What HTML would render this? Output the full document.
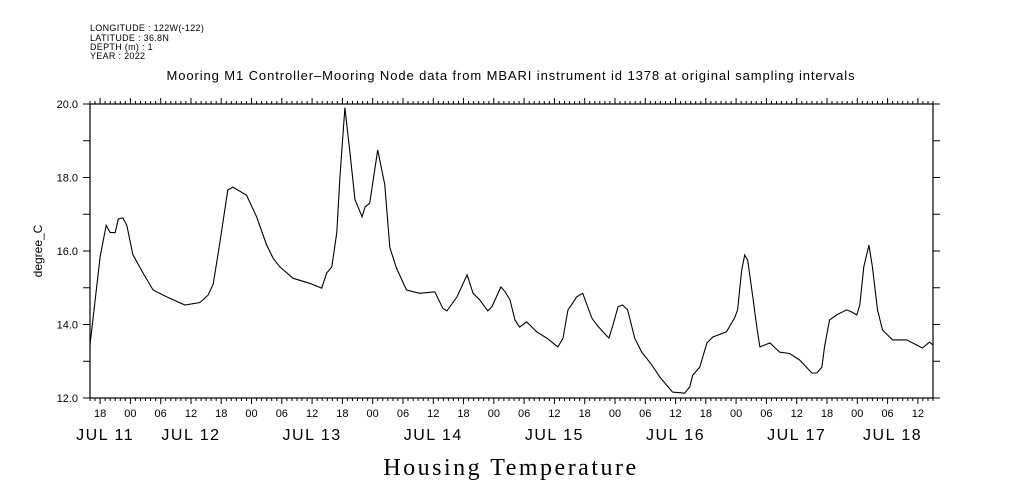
<!DOCTYPE html>
<html><head><meta charset="utf-8">
<style>
body{margin:0;background:#fff;}
svg{display:block;}
text{font-family:"Liberation Sans",sans-serif;fill:#000;}
</style></head>
<body>
<svg id="chart" width="1009" height="504" viewBox="0 0 1009 504">
<g font-size="9" letter-spacing="0.3">
<text x="90" y="31">LONGITUDE : 122W(-122)</text>
<text x="90" y="41">LATITUDE : 36.8N</text>
<text x="90" y="50">DEPTH (m) : 1</text>
<text x="90" y="59">YEAR : 2022</text>
</g>
<text x="511" y="80" font-size="13" letter-spacing="0.9" text-anchor="middle">Mooring M1 Controller–Mooring Node data from MBARI instrument id 1378 at original sampling intervals</text>
<text x="511" y="475" font-size="24" letter-spacing="2.5" text-anchor="middle" style="font-family:'Liberation Serif',serif">Housing Temperature</text>
<text transform="translate(42,251) rotate(-90)" font-size="12" text-anchor="middle">degree_C</text>
<rect x="90" y="104" width="843" height="294" fill="none" stroke="#000" stroke-width="1.2"/>
<g id="axes"></g>
<path id="line" fill="none" stroke="#000" stroke-width="1.1"/>
</svg>
<script>
// hours since Jul 11 16:00
const hours = [0,2,3.2,4,5,5.6,6.5,7.3,8.5,10.5,12.5,15.2,18.8,21.8,23.4,24.4,25.7,27.3,28.3,31,33,35,36.3,37.6,40.2,43.5,45.9,46.9,47.9,48.9,49.5,50.5,51.5,52.5,53.9,54.5,55.4,57,58.4,59.4,60.7,62.7,65.3,68.3,69.9,70.7,72.7,74.7,75.9,77.2,78.8,79.6,81.4,82.2,83.2,84.2,85.1,86.5,88.5,90.5,92.7,93.7,94.7,95.6,96.4,97.6,99.4,100.4,101.6,102.8,103.6,104.6,105.5,106.5,107.9,109.3,111.3,112.9,115.4,117.8,118.8,119.4,120.8,122.2,123.4,126.1,127.7,128.3,129.1,129.7,130.3,131.3,132.1,132.7,134.7,136.6,138.6,140.6,143,144,145,145.5,146.5,147.9,149.9,150.9,151.9,152.5,153.3,154.3,155,156,157,159,161.8,164.9,166.3,167];
const temps = [13.44,15.84,16.7,16.5,16.5,16.87,16.9,16.7,15.9,15.4,14.94,14.75,14.53,14.6,14.8,15.1,16.2,17.66,17.74,17.52,16.93,16.16,15.8,15.57,15.26,15.12,14.99,15.4,15.57,16.5,18.0,19.9,18.66,17.4,16.93,17.2,17.3,18.75,17.8,16.1,15.54,14.94,14.85,14.89,14.44,14.37,14.75,15.35,14.85,14.67,14.37,14.48,15.02,14.9,14.67,14.12,13.93,14.07,13.8,13.63,13.39,13.63,14.4,14.58,14.75,14.85,14.18,13.99,13.8,13.63,13.99,14.48,14.53,14.4,13.63,13.25,12.9,12.57,12.16,12.13,12.3,12.62,12.84,13.5,13.66,13.8,14.18,14.4,15.48,15.89,15.75,14.75,13.93,13.39,13.5,13.25,13.21,13.03,12.68,12.68,12.84,13.39,14.12,14.26,14.4,14.34,14.26,14.53,15.57,16.16,15.57,14.4,13.85,13.58,13.58,13.36,13.52,13.44];
const yTicks = [12.0,14.0,16.0,18.0,20.0];
const hourLabels = ["18","00","06","12"];
const dayNames = ["JUL 11","JUL 12","JUL 13","JUL 14","JUL 15","JUL 16","JUL 17","JUL 18"];
const dayLabelHours = [3,20,44,68,92,116,140,159];

const X0=90,X1=933,Y0=104,Y1=398,HMAX=167,TMIN=12,TMAX=20;
const xs=h=>X0+(h/HMAX)*(X1-X0);
const ys=t=>Y1-(t-TMIN)/(TMAX-TMIN)*(Y1-Y0);
const NS="http://www.w3.org/2000/svg";
const ax=document.getElementById('axes');
function mk(tag,attrs){const e=document.createElementNS(NS,tag);for(const k in attrs)e.setAttribute(k,attrs[k]);ax.appendChild(e);return e;}
let d="";
for(let h=0;h<=HMAX;h++){
  const x=xs(h).toFixed(1);
  const major=((h+16)%6===0);
  const L=major?6:3;
  d+=`M${x},${Y1}v${L}M${x},${Y0}v${-L}`;
}
for(let t=TMIN;t<=TMAX;t+=1){
  const y=ys(t).toFixed(1);
  d+=`M${X0},${y}h-7M${X1},${y}h7`;
}
const tk=mk('path',{d:d,stroke:'#000','stroke-width':1,fill:'none'});


yTicks.forEach(t=>{
  const e=mk('text',{x:78,y:ys(t)+4,'font-size':11,'text-anchor':'end'});
  e.textContent=t.toFixed(1);
  
  
});
for(let h=2,i=0;h<=HMAX;h+=6,i++){
  const e=mk('text',{x:xs(h),y:417,'font-size':11,'text-anchor':'middle'});
  e.textContent=hourLabels[i%4];
  
  
}
dayNames.forEach((n,i)=>{
  const e=mk('text',{x:xs(dayLabelHours[i]),y:440,'font-size':16,'letter-spacing':1.5,'text-anchor':'middle'});
  e.textContent=n;
  
  
});
document.getElementById('line').setAttribute('d',hours.map((h,i)=>(i?'L':'M')+xs(h).toFixed(1)+','+ys(temps[i]).toFixed(1)).join(''));
</script>
</body></html>
